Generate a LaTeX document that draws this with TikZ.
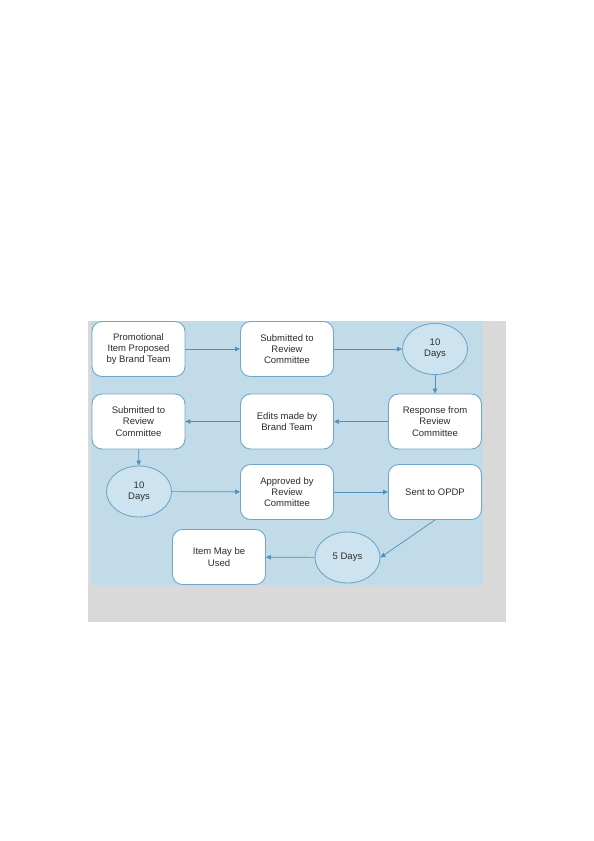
\documentclass[tikz,border=0pt]{standalone}
\usepackage{fontspec}
\setmainfont{Liberation Sans}
\usetikzlibrary{arrows.meta,shapes.geometric}
\definecolor{pagegray}{RGB}{217,217,217}
\definecolor{bgblue}{RGB}{193,219,232}
\definecolor{edgeblue}{RGB}{112,166,204}
\definecolor{dayblue}{RGB}{205,228,240}
\definecolor{arrowblue}{RGB}{78,144,192}
\definecolor{txt}{RGB}{45,45,45}

\begin{document}
\begin{tikzpicture}[x=1pt,y=-1pt,
  box/.style={draw=edgeblue,fill=white,rounded corners=10pt,line width=0.9pt,minimum width=93pt,minimum height=55pt,align=center,text=txt,font=\fontsize{9.5}{11.3}\selectfont},
  days/.style={ellipse,draw=edgeblue,fill=dayblue,line width=0.9pt,inner sep=0pt,minimum width=65pt,minimum height=51pt,align=center,text=txt,font=\fontsize{9.5}{11.3}\selectfont},
  flow/.style={draw=arrowblue,line width=0.7pt,-{Triangle[length=5pt,width=4.5pt]}}]
\useasboundingbox (0,0) rectangle (594,841);
\fill[pagegray] (88,321) rectangle (506,622);
\fill[bgblue] (91,321) rectangle (483,585);
\node[box] (promo) at (138.5,349) {Promotional\\Item Proposed\\by Brand Team};
\node[box] (subA) at (287,349) {Submitted to\\Review\\Committee};
\node[days] (daysA) at (435,349) {10\\Days};
\node[box] (resp) at (435,421.5) {Response from\\Review\\Committee};
\node[box] (edits) at (287,421.5) {Edits made by\\Brand Team};
\node[box] (subB) at (138.5,421.5) {Submitted to\\Review\\Committee};
\node[days] (daysB) at (139,491.5) {10\\Days};
\node[box] (appr) at (287,492) {Approved by\\Review\\Committee};
\node[box] (opdp) at (435,492) {Sent to OPDP};
\node[days] (daysC) at (347.5,557.5) {5 Days};
\node[box] (used) at (219,557) {Item May be\\Used};
\draw[flow] (promo) -- (subA); \draw[flow] (subA) -- (daysA); \draw[flow] (daysA) -- (resp);
\draw[flow] (resp) -- (edits); \draw[flow] (edits) -- (subB); \draw[flow] (subB) -- (daysB);
\draw[flow] (daysB) -- (appr); \draw[flow] (appr) -- (opdp);
\draw[flow] (opdp.south) -- (daysC.east); \draw[flow] (daysC) -- (used);
\end{tikzpicture}
\end{document}
